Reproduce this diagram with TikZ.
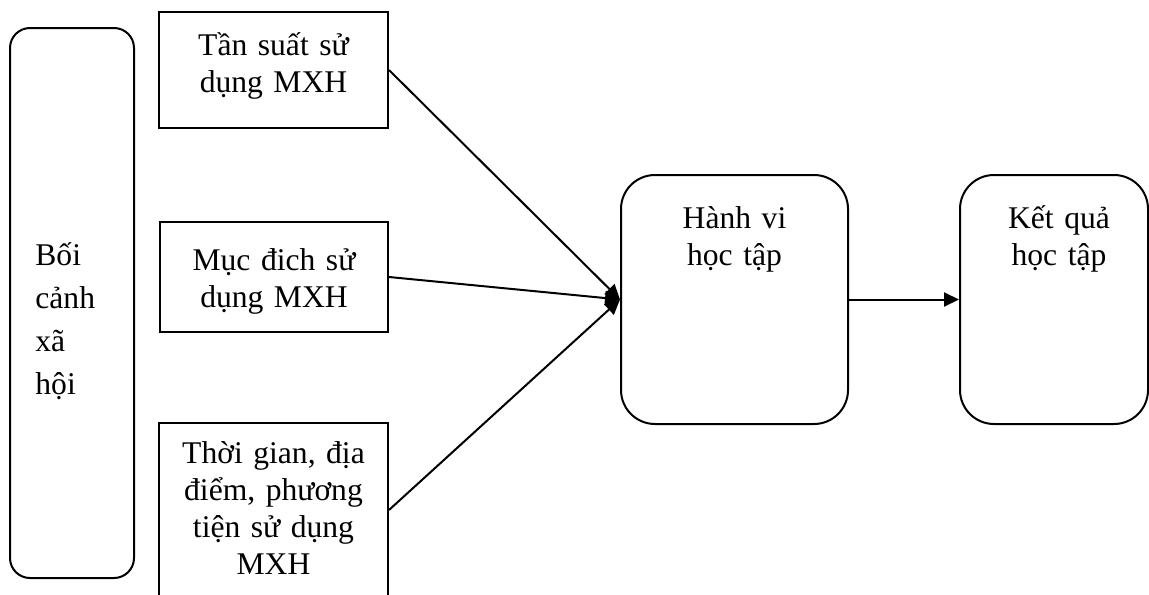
\documentclass[tikz,border=0pt]{standalone}
\usepackage{fontspec}
\setmainfont{Liberation Serif}
\usetikzlibrary{arrows.meta}
\def \boxline {1pt}
\def \textsize {\fontsize{15.8}{18.5}\selectfont}
\tikzstyle{factor}=[draw, rectangle, line width=\boxline, inner sep=0]
\tikzstyle{stage}=[draw, rectangle, rounded corners=17pt, line width=\boxline, inner sep=0]
\tikzstyle{caption}=[inner sep=0, text width=110pt, align=center, anchor=base, font=\textsize]
\tikzstyle{link}=[line width=\boxline, -{Triangle[length=7.5pt, width=7pt]}]

\begin{document}
\begin{tikzpicture}[x=0.5pt, y=-0.5pt]
\useasboundingbox (0,0) rectangle (1149,594);

\node[stage, rounded corners=10pt, minimum width=62pt, minimum height=275pt] (ctx) at (72,303) {};
\node[factor, minimum width=114.5pt, minimum height=58pt] (freq) at (273.5,70) {};
\node[factor, minimum width=114pt, minimum height=55pt] (purp) at (274,277) {};
\node[factor, minimum width=114.5pt, minimum height=87pt] (place) at (273.5,510) {};
\node[stage, minimum width=113.5pt, minimum height=124.5pt] (behav) at (734.5,299.5) {};
\node[stage, minimum width=94pt, minimum height=124.5pt] (result) at (1054,299.5) {};

\node[caption, text width=60pt, align=left, anchor=base west, font=\fontsize{15.8}{21.5}\selectfont] (ctx-t) at (35,265) {Bối\\cảnh\\xã\\hội};
\node[caption] (freq-t) at (273.5,55) {Tần suất sử\\dụng MXH};
\node[caption] (purp-t) at (274,270) {Mục đich sử\\dụng MXH};
\node[caption] (place-t) at (273.5,463) {Thời gian, địa\\điểm, phương\\tiện sử dụng\\MXH};
\node[caption] (behav-t) at (734.5,228) {Hành vi\\học tập};
\node[caption] (result-t) at (1059,228) {Kết quả\\học tập};

\foreach \f in {freq, purp, place}
    \draw[link] (\f.east) -- (behav.west);
\draw[link] (behav.east) -- (result.west);

\end{tikzpicture}
\end{document}
